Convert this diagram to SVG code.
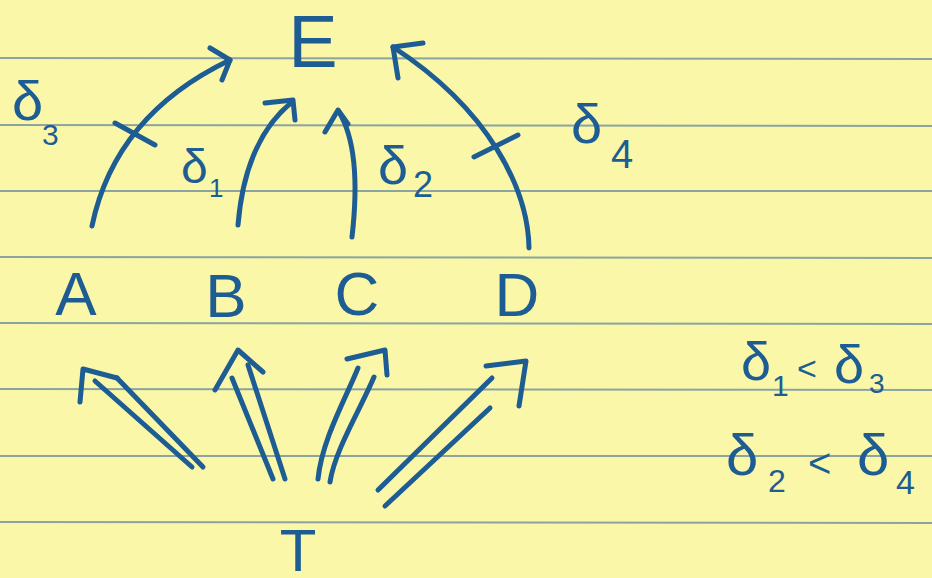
<svg xmlns="http://www.w3.org/2000/svg" width="932" height="578" viewBox="0 0 932 578">
<style>
.rule{stroke:#8ba4a2;stroke-width:2}
.ink{fill:none;stroke:#1d5d93;stroke-width:5;stroke-linecap:round;stroke-linejoin:round}
.lbl{font-family:"Liberation Sans","DejaVu Sans",sans-serif;fill:#1d5d93}
.node{font-family:"Liberation Sans","DejaVu Sans",sans-serif;fill:#1d5d93;text-anchor:middle}
</style>
<rect width="932" height="578" fill="#faf7a9"/>
<g id="paper">
<line class="rule" x1="0" y1="58" x2="932" y2="59"/>
<line class="rule" x1="0" y1="125" x2="932" y2="126"/>
<line class="rule" x1="0" y1="191" x2="932" y2="191"/>
<line class="rule" x1="0" y1="257" x2="932" y2="258"/>
<line class="rule" x1="0" y1="323" x2="932" y2="324"/>
<line class="rule" x1="0" y1="389" x2="932" y2="390"/>
<line class="rule" x1="0" y1="456" x2="932" y2="456"/>
<line class="rule" x1="0" y1="522" x2="932" y2="523"/>
</g>
<g id="node-E"><text class="node" x="313" y="67" font-size="74">E</text></g>
<g id="node-A"><text class="node" x="76" y="315" font-size="62">A</text></g>
<g id="node-B"><text class="node" x="226" y="317" font-size="62">B</text></g>
<g id="node-C"><text class="node" x="357" y="315" font-size="62">C</text></g>
<g id="node-D"><text class="node" x="517" y="316" font-size="62">D</text></g>
<g id="node-T"><text class="node" x="298" y="571" font-size="60">T</text></g>
<g id="connectors">
<path class="ink" d="M92,226 Q115,115 230,60"/>
<path class="ink" d="M210,48 L230,60 L222,80"/>
<path class="ink" d="M115,123 L155,145"/>
<path class="ink" d="M238,225 Q245,140 292,102"/>
<path class="ink" d="M265,103 L293,100 L295,120"/>
<path class="ink" d="M352,237 Q362,150 339,112"/>
<path class="ink" d="M325,132 L338,110 L348,124"/>
<path class="ink" d="M529,248 C528,190 490,110 393,47"/>
<path class="ink" d="M423,43 L393,47 L398,78"/>
<path class="ink" d="M474,157 L518,135"/>
<path class="ink" d="M192,467 L95,381"/>
<path class="ink" d="M203,467 L117,378"/>
<path class="ink" d="M80,402 L83,369 L117,378"/>
<path class="ink" d="M273,479 L232,378"/>
<path class="ink" d="M285,479 L248,365"/>
<path class="ink" d="M215,390 L238,350 L263,372"/>
<path class="ink" d="M318,479 C322,440 345,400 358,368"/>
<path class="ink" d="M330,482 C335,450 360,410 374,377"/>
<path class="ink" d="M347,359 L385,350 L387,375"/>
<path class="ink" d="M378,490 L492,378"/>
<path class="ink" d="M385,506 L490,408"/>
<path class="ink" d="M486,366 L526,361 L519,406"/>
</g>
<g id="labels">
<text class="lbl" x="12" y="120" font-size="56">δ</text><text class="lbl" x="42" y="145" font-size="30">3</text>
<text class="lbl" x="181" y="183" font-size="48">δ</text><text class="lbl" x="209" y="197" font-size="26">1</text>
<text class="lbl" x="378" y="184" font-size="54">δ</text><text class="lbl" x="413" y="197" font-size="36">2</text>
<text class="lbl" x="571" y="143" font-size="56">δ</text><text class="lbl" x="611" y="168" font-size="40">4</text>
</g>
<g id="relations">
<text class="lbl" x="741" y="380" font-size="54">δ</text><text class="lbl" x="772" y="396" font-size="30">1</text>
<text class="lbl" x="797" y="380" font-size="34">&lt;</text>
<text class="lbl" x="834" y="383" font-size="54">δ</text><text class="lbl" x="869" y="393" font-size="28">3</text>
<text class="lbl" x="726" y="475" font-size="58">δ</text><text class="lbl" x="768" y="492" font-size="32">2</text>
<text class="lbl" x="808" y="477" font-size="40">&lt;</text>
<text class="lbl" x="857" y="475" font-size="58">δ</text><text class="lbl" x="896" y="494" font-size="34">4</text>
</g>
</svg>
